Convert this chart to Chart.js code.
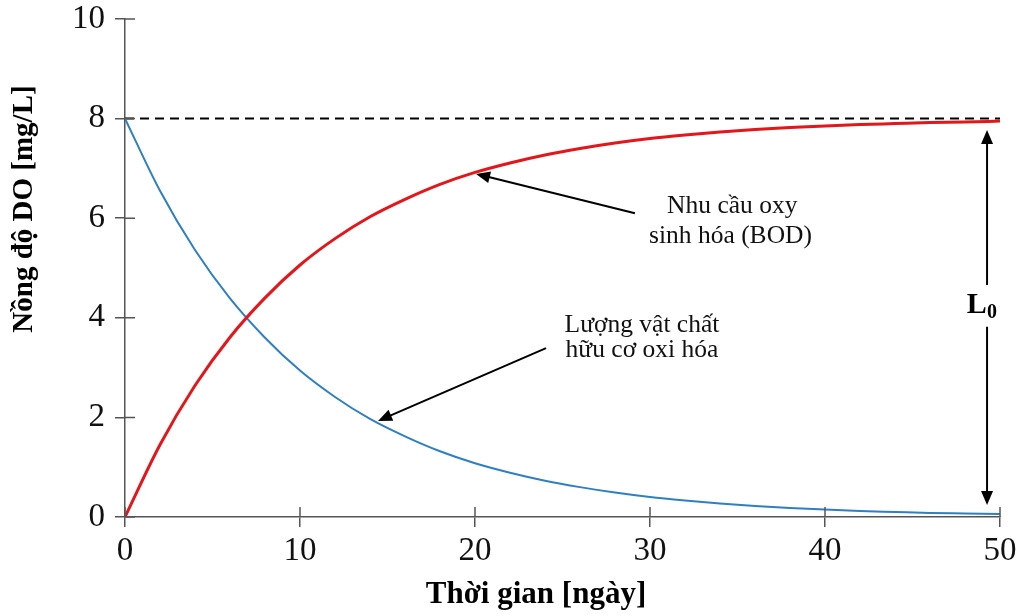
<!DOCTYPE html>
<html>
<head>
<meta charset="utf-8">
<script src="https://cdn.jsdelivr.net/npm/chart.js@4.4.0/dist/chart.umd.min.js"></script>
<style>
  html, body { margin: 0; padding: 0; background: #fff; }
  #wrap { width: 1017px; height: 616px; position: relative; }
</style>
</head>
<body>
<div id="wrap"><canvas id="c" width="1017" height="616"></canvas></div>
<script>
// ---- data ----
const days = [0, 2, 4, 6, 8, 10, 12, 14, 16, 18, 20, 22, 24, 26, 28, 30, 32, 34, 36, 38, 40, 42, 44, 46, 48, 50];
const bodValues = [0, 1.45, 2.64, 3.61, 4.40, 5.06, 5.59, 6.03, 6.38, 6.68, 6.92, 7.11, 7.27, 7.40, 7.51, 7.60, 7.67, 7.73, 7.78, 7.82, 7.85, 7.88, 7.90, 7.92, 7.93, 7.95];
const organicValues = [8.0, 6.55, 5.36, 4.39, 3.60, 2.94, 2.41, 1.97, 1.62, 1.32, 1.08, 0.89, 0.73, 0.60, 0.49, 0.40, 0.33, 0.27, 0.22, 0.18, 0.15, 0.12, 0.10, 0.08, 0.07, 0.06];
const limitDays = [0, 50];
const limitValues = [8, 8];
const xTicks = [0, 10, 20, 30, 40, 50];
const yTicks = [0, 2, 4, 6, 8, 10];

const xTitle = 'Thời gian [ngày]';
const yTitle = 'Nồng độ DO [mg/L]';
const bodLabel = ['Nhu cầu oxy', 'sinh hóa (BOD)'];
const organicLabel = ['Lượng vật chất', 'hữu cơ oxi hóa'];

const toPts = (xs, ys) => xs.map((x, i) => ({ x: x, y: ys[i] }));

const SERIF = "'Liberation Serif', 'DejaVu Serif', serif";
const AXIS_COLOR = '#555';

function arrowHead(ctx, x1, y1, x2, y2, len, half) {
  const a = Math.atan2(y2 - y1, x2 - x1);
  ctx.beginPath();
  ctx.moveTo(x2, y2);
  ctx.lineTo(x2 - len * Math.cos(a) + half * Math.sin(a), y2 - len * Math.sin(a) - half * Math.cos(a));
  ctx.lineTo(x2 - len * Math.cos(a) - half * Math.sin(a), y2 - len * Math.sin(a) + half * Math.cos(a));
  ctx.closePath();
  ctx.fill();
}
function arrow(ctx, x1, y1, x2, y2) {
  const a = Math.atan2(y2 - y1, x2 - x1);
  const len = 14;
  ctx.beginPath();
  ctx.moveTo(x1, y1);
  ctx.lineTo(x2 - (len - 2) * Math.cos(a), y2 - (len - 2) * Math.sin(a));
  ctx.stroke();
  arrowHead(ctx, x1, y1, x2, y2, len, 6);
}

const annotations = {
  id: 'annotations',
  afterDraw(chart) {
    const ctx = chart.ctx;
    const xs = chart.scales.x, ys = chart.scales.y;
    const X = v => xs.getPixelForValue(v);
    const Y = v => ys.getPixelForValue(v);
    ctx.save();

    // inner half of the tick marks (crossing ticks)
    ctx.strokeStyle = AXIS_COLOR;
    ctx.lineWidth = 1.5;
    ctx.beginPath();
    xTicks.forEach(t => { const px = X(t); ctx.moveTo(px, Y(0)); ctx.lineTo(px, Y(0) - 10); });
    yTicks.forEach(t => { const py = Y(t); ctx.moveTo(X(0), py); ctx.lineTo(X(0) + 10, py); });
    ctx.stroke();

    // arrows
    ctx.strokeStyle = '#000';
    ctx.fillStyle = '#000';
    ctx.lineWidth = 2;
    arrow(ctx, X(29.14), Y(6.10), X(20.06), Y(6.89));
    arrow(ctx, X(24.06), Y(3.39), X(14.46), Y(1.93));

    // L0 double arrow
    const lx = X(49.26);
    arrow(ctx, lx, Y(4.66), lx, Y(7.77));
    arrow(ctx, lx, Y(3.82), lx, Y(0.24));

    // L0 label
    ctx.fillStyle = '#000';
    ctx.textBaseline = 'alphabetic';
    ctx.textAlign = 'left';
    ctx.font = 'bold 30px ' + SERIF;
    ctx.fillText('L', X(48.1), Y(4.1));
    ctx.font = 'bold 20px ' + SERIF;
    ctx.fillText('0', X(49.25), Y(4.0));

    // annotation texts
    ctx.fillStyle = '#111';
    ctx.textAlign = 'center';
    ctx.font = '25.5px ' + SERIF;
    ctx.fillText(bodLabel[0], X(34.7), Y(6.10));
    ctx.fillText(bodLabel[1], X(34.6), Y(5.50));
    ctx.fillText(organicLabel[0], X(29.54), Y(3.71));
    ctx.fillText(organicLabel[1], X(29.54), Y(3.21));

    // axis titles
    ctx.fillStyle = '#000';
    ctx.font = 'bold 31px ' + SERIF;
    ctx.textAlign = 'center';
    ctx.textBaseline = 'alphabetic';
    ctx.fillText(xTitle, 536, 603);
    ctx.save();
    ctx.translate(32, 209);
    ctx.rotate(-Math.PI / 2);
    ctx.font = 'bold 29px ' + SERIF;
    ctx.fillText(yTitle, 0, 0);
    ctx.restore();

    ctx.restore();
  }
};

new Chart(document.getElementById('c'), {
  type: 'line',
  data: {
    datasets: [
      {
        label: 'BOD',
        data: toPts(days, bodValues),
        borderColor: '#e3161b',
        borderWidth: 3,
        pointRadius: 0,
        cubicInterpolationMode: 'monotone',
        fill: false
      },
      {
        label: 'Organic',
        data: toPts(days, organicValues),
        borderColor: '#2f7fc1',
        borderWidth: 2,
        pointRadius: 0,
        cubicInterpolationMode: 'monotone',
        fill: false
      },
      {
        label: 'L0',
        data: toPts(limitDays, limitValues),
        borderColor: '#000',
        borderWidth: 2,
        borderDash: [9, 6],
        pointRadius: 0,
        fill: false
      }
    ]
  },
  options: {
    responsive: false,
    animation: false,
    layout: { padding: { top: 19, right: 17, left: 0, bottom: 0 } },
    plugins: { legend: { display: false }, tooltip: { enabled: false } },
    scales: {
      x: {
        type: 'linear',
        min: 0, max: 50,
        afterFit: s => { s.height = 99; s.paddingLeft = 0; s.paddingRight = 0; },
        afterBuildTicks: s => { s.ticks = xTicks.map(v => ({ value: v })); },
        border: { display: true, color: AXIS_COLOR, width: 1.5 },
        grid: { display: true, drawOnChartArea: false, drawTicks: true, tickLength: 10, color: AXIS_COLOR, lineWidth: 1.5 },
        ticks: { color: '#111', padding: 5, maxRotation: 0, font: { family: SERIF, size: 33 } }
      },
      y: {
        type: 'linear',
        min: 0, max: 10,
        afterFit: s => { s.width = 125; s.paddingTop = 0; s.paddingBottom = 0; },
        afterBuildTicks: s => { s.ticks = yTicks.map(v => ({ value: v })); },
        border: { display: true, color: AXIS_COLOR, width: 1.5 },
        grid: { display: true, drawOnChartArea: false, drawTicks: true, tickLength: 10, color: AXIS_COLOR, lineWidth: 1.5 },
        ticks: { color: '#111', padding: 10, font: { family: SERIF, size: 33 } }
      }
    }
  },
  plugins: [annotations]
});
</script>
</body>
</html>
